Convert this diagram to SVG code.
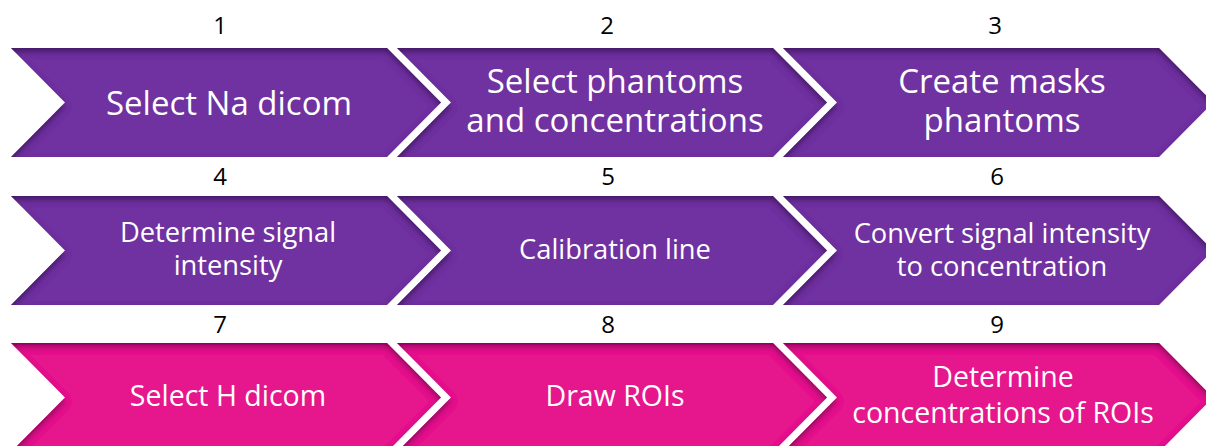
<svg xmlns="http://www.w3.org/2000/svg" width="1206" height="446" viewBox="0 0 1206 446">
<defs>
<style>
.num{font-family:"Open Sans","Liberation Sans",sans-serif;font-size:24px;fill:#000;text-anchor:middle}
.lbl{font-family:"Open Sans","Liberation Sans",sans-serif;fill:#fff;text-anchor:middle}
.r1{font-size:33px}
.r2{font-size:27.3px}
.r3{font-size:28.5px}
.pur{fill:#7030A0;filter:url(#ish)}
.pink{fill:#E6198D;filter:url(#ish)}
</style>
<filter id="ish" x="-5%" y="-20%" width="110%" height="140%">
<feComponentTransfer in="SourceAlpha" result="inv"><feFuncA type="table" tableValues="1 0"/></feComponentTransfer>
<feGaussianBlur in="inv" stdDeviation="3"/>
<feOffset dy="4" result="sh"/>
<feFlood flood-color="#1a0030" flood-opacity="0.7"/>
<feComposite in2="sh" operator="in"/>
<feComposite in2="SourceAlpha" operator="in" result="inner"/>
<feMerge><feMergeNode in="SourceGraphic"/><feMergeNode in="inner"/></feMerge>
</filter>
</defs>
<rect width="1206" height="446" fill="#fff"/>

<g id="step1">
<polygon class="pur" points="11,48 387,48 441,102.5 387,157 11,157 65,102.5"/>
<text class="num" x="220" y="34">1</text>
<text class="lbl r1" x="229" y="115">Select Na dicom</text>
</g>
<g id="step2">
<polygon class="pur" points="397,48 773,48 827,102.5 773,157 397,157 451,102.5"/>
<text class="num" x="607" y="34">2</text>
<text class="lbl r1" x="615" y="93">Select phantoms</text>
<text class="lbl r1" x="615" y="132">and concentrations</text>
</g>
<g id="step3">
<polygon class="pur" points="783,48 1159,48 1213,102.5 1159,157 783,157 837,102.5"/>
<text class="num" x="995" y="34">3</text>
<text class="lbl r1" x="1002" y="93">Create masks</text>
<text class="lbl r1" x="1002" y="132">phantoms</text>
</g>

<g id="step4">
<polygon class="pur" points="11,196 387,196 441,250.5 387,305 11,305 65,250.5"/>
<text class="num" x="220" y="185">4</text>
<text class="lbl r2" x="228" y="242">Determine signal</text>
<text class="lbl r2" x="228" y="275">intensity</text>
</g>
<g id="step5">
<polygon class="pur" points="397,196 773,196 827,250.5 773,305 397,305 451,250.5"/>
<text class="num" x="608" y="185">5</text>
<text class="lbl r2" x="615" y="259">Calibration line</text>
</g>
<g id="step6">
<polygon class="pur" points="783,196 1159,196 1213,250.5 1159,305 783,305 837,250.5"/>
<text class="num" x="997" y="185">6</text>
<text class="lbl r2" x="1002" y="243">Convert signal intensity</text>
<text class="lbl r2" x="1002" y="276">to concentration</text>
</g>

<g id="step7">
<polygon class="pink" points="11,343 387,343 441,397.5 387,452 11,452 65,397.5"/>
<text class="num" x="220" y="333">7</text>
<text class="lbl r3" x="228" y="406">Select H dicom</text>
</g>
<g id="step8">
<polygon class="pink" points="397,343 773,343 827,397.5 773,452 397,452 451,397.5"/>
<text class="num" x="608" y="333">8</text>
<text class="lbl r3" x="615" y="406">Draw ROIs</text>
</g>
<g id="step9">
<polygon class="pink" points="783,343 1159,343 1213,397.5 1159,452 783,452 837,397.5"/>
<text class="num" x="997" y="333">9</text>
<text class="lbl r3" x="1003" y="387">Determine</text>
<text class="lbl r3" x="1003" y="423">concentrations of ROIs</text>
</g>
</svg>
